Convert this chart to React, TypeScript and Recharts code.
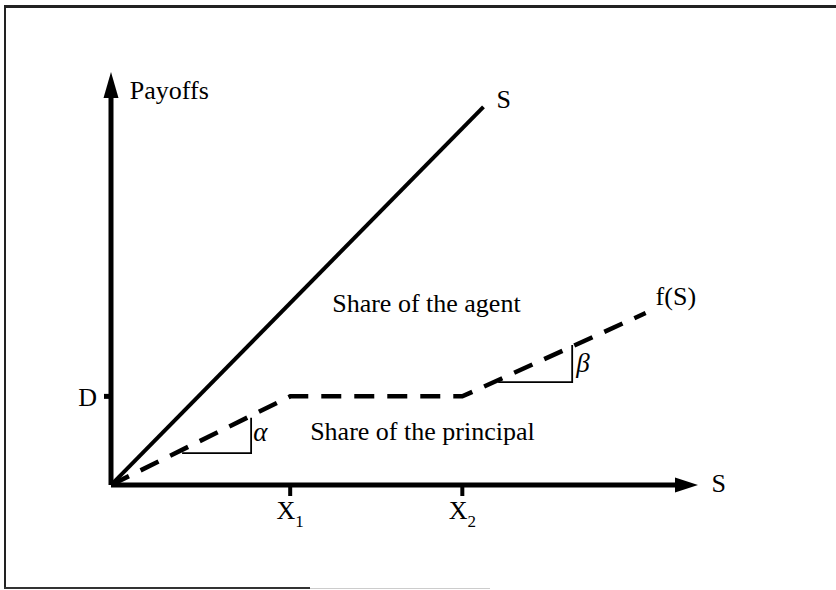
import React from 'react'
import { ComposedChart, Line, XAxis, YAxis, ReferenceDot } from 'recharts'

// axis scale: x 0..9.6, y 0..6.55 (same px per unit both ways)
const X_MAX = 9.6
const Y_MAX = 6.55

const X1 = 3.05
const X2 = 5.98
const D = 1.5

// 45 degree line (payoff S)
const agentX = [0, 6.34]
const agentY = [0, 6.4]

// f(S), piecewise linear
const fX = [0, X1, X2, 9.1]
const fY = [0, D, D, 2.91]

// slope triangles
const alphaX = [1.21, 2.385, 2.385]
const alphaY = [0.54, 0.54, 1.14]
const betaX = [6.59, 7.85, 7.85]
const betaY = [1.74, 1.74, 2.37]

const xTicks = [X1, X2]
const xTickSubs = ['1', '2']
const yTicks = [D]
const yTickLabels = ['D']

// free text labels, anchored in data units (left edge, baseline)
const notes = [
  { x: 0.32, y: 6.53, text: 'Payoffs', italic: false },
  { x: 6.56, y: 6.38, text: 'S', italic: false },
  { x: 3.765, y: 2.93, text: 'Share of the agent', italic: false },
  { x: 3.39, y: 0.76, text: 'Share of the principal', italic: false },
  { x: 9.27, y: 3.05, text: 'f(S)', italic: false },
  { x: 10.22, y: -0.12, text: 'S', italic: false },
  { x: 2.42, y: 0.74, text: 'α', italic: true },
  { x: 7.92, y: 1.92, text: 'β', italic: true },
]

const zip = (xs: number[], ys: number[]) => xs.map((x, i) => ({ x, y: ys[i] }))

const FONT = '"Liberation Serif", "Times New Roman", serif'

const XTick = (p: any) => {
  const i = xTicks.indexOf(p.payload.value)
  return (
    <text x={p.x} y={p.y} dy={21} textAnchor="middle" fontFamily={FONT} fontSize={26} fill="#000">
      <tspan>X</tspan>
      <tspan dy={8} fontSize={17}>{xTickSubs[i]}</tspan>
    </text>
  )
}

const YTick = (p: any) => {
  const i = yTicks.indexOf(p.payload.value)
  return (
    <text x={p.x} y={p.y} dy={9.5} textAnchor="end" fontFamily={FONT} fontSize={26} fill="#000">
      {yTickLabels[i]}
    </text>
  )
}

export default function App() {
  return (
    <div style={{ position: 'absolute', left: 0, top: 0, width: 836, height: 590, overflow: 'hidden', background: '#fff' }}>
      <div style={{ position: 'absolute', left: 4, top: 5, width: 900, height: 581, borderLeft: '2px solid #222', borderTop: '3px solid #222' }} />
      <div style={{ position: 'absolute', left: 4, top: 587, width: 306, height: 2, background: '#333' }} />
      <div style={{ position: 'absolute', left: 310, top: 588, width: 180, height: 1, background: '#ccc' }} />
      <div style={{ position: 'absolute', left: 0, top: 0 }}>
        <ComposedChart width={836} height={590} margin={{ top: 98, right: 161, bottom: 75, left: 51 }}>
          <XAxis
            type="number"
            dataKey="x"
            domain={[0, X_MAX]}
            ticks={xTicks}
            tick={<XTick />}
            tickSize={11}
            tickMargin={2}
            axisLine={{ stroke: '#000', strokeWidth: 5 }}
            tickLine={{ stroke: '#000', strokeWidth: 4 }}
            allowDataOverflow
          />
          <YAxis
            type="number"
            dataKey="y"
            domain={[0, Y_MAX]}
            ticks={yTicks}
            tick={<YTick />}
            tickSize={7}
            tickMargin={7}
            axisLine={{ stroke: '#000', strokeWidth: 5 }}
            tickLine={{ stroke: '#000', strokeWidth: 5 }}
            allowDataOverflow
          />
          <Line data={zip(agentX, agentY)} dataKey="y" type="linear" stroke="#000" strokeWidth={4} dot={false} isAnimationActive={false} />
          <Line data={zip(fX, fY)} dataKey="y" type="linear" stroke="#000" strokeWidth={4.5} strokeDasharray="20 13" dot={false} isAnimationActive={false} />
          <Line data={zip(alphaX, alphaY)} dataKey="y" type="linear" stroke="#000" strokeWidth={1.8} dot={false} isAnimationActive={false} />
          <Line data={zip(betaX, betaY)} dataKey="y" type="linear" stroke="#000" strokeWidth={1.8} dot={false} isAnimationActive={false} />
          {/* arrow heads */}
          <ReferenceDot x={X_MAX} y={0} r={0} ifOverflow="visible"
            shape={(p: any) => <polygon points={`${p.cx},${p.cy - 7.5} ${p.cx + 23},${p.cy} ${p.cx},${p.cy + 7.5}`} fill="#000" />} />
          <ReferenceDot x={0} y={Y_MAX} r={0} ifOverflow="visible"
            shape={(p: any) => <polygon points={`${p.cx - 7.5},${p.cy} ${p.cx},${p.cy - 26} ${p.cx + 7.5},${p.cy}`} fill="#000" />} />
          {notes.map((n, i) => (
            <ReferenceDot key={i} x={n.x} y={n.y} r={0} ifOverflow="visible"
              shape={(p: any) => (
                <text x={p.cx} y={p.cy} fontFamily={FONT} fontSize={n.italic ? 27 : 26} fontStyle={n.italic ? 'italic' : 'normal'} fill="#000">
                  {n.text}
                </text>
              )} />
          ))}
        </ComposedChart>
      </div>
    </div>
  )
}
